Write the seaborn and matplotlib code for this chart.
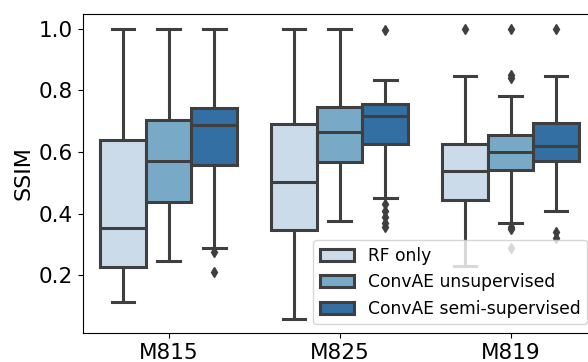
import matplotlib
matplotlib.use("Agg")
import matplotlib.pyplot as plt
import pandas as pd
import seaborn as sns

datasets = ["M815", "M825", "M819"]
methods = ["RF only", "ConvAE unsupervised", "ConvAE semi-supervised"]

# Box summaries per dataset: (lower whisker, Q1, median, Q3, upper whisker)
rf_only = [
    (0.114, 0.228, 0.353, 0.637, 1.000),
    (0.060, 0.347, 0.501, 0.690, 1.000),
    (0.231, 0.444, 0.539, 0.626, 0.847),
]
convae_unsup = [
    (0.247, 0.437, 0.572, 0.702, 1.000),
    (0.376, 0.566, 0.663, 0.746, 1.000),
    (0.371, 0.540, 0.601, 0.656, 0.780),
]
convae_semi = [
    (0.290, 0.558, 0.688, 0.742, 1.000),
    (0.452, 0.627, 0.718, 0.756, 0.834),
    (0.410, 0.569, 0.618, 0.694, 0.847),
]

# Points lying beyond the whiskers
rf_only_fliers = [[], [], [1.000]]
convae_unsup_fliers = [[], [], [0.288, 0.350, 0.357, 0.840, 0.850, 1.000]]
convae_semi_fliers = [
    [0.212, 0.275],
    [0.355, 0.370, 0.390, 0.410, 0.430, 0.995],
    [0.320, 0.340, 1.000],
]


def sample_from_summary(summary, fliers, reps=20):
    """Sample whose quartiles and whisker ends equal the given summary."""
    lo, q1, med, q3, hi = summary
    return [lo] + [q1] * reps + [med] * reps + [q3] * reps + [hi] + list(fliers)


rows = []
for method, summaries, fliers in [
    (methods[0], rf_only, rf_only_fliers),
    (methods[1], convae_unsup, convae_unsup_fliers),
    (methods[2], convae_semi, convae_semi_fliers),
]:
    for ds, summ, fl in zip(datasets, summaries, fliers):
        for v in sample_from_summary(summ, fl):
            rows.append({"dataset": ds, "method": method, "SSIM": v})
df = pd.DataFrame(rows)

fig = plt.figure(figsize=(5.88, 3.62), dpi=100)
ax = fig.add_axes([0.1412, 0.0801, 1.0136 - 0.1412, 0.9613 - 0.0801])

line_color = "#3f3f3f"
sns.boxplot(
    data=df, x="dataset", y="SSIM", hue="method",
    order=datasets, hue_order=methods, palette="Blues",
    linewidth=2.2, linecolor=line_color, ax=ax,
    flierprops=dict(marker="d", markersize=5,
                    markerfacecolor=line_color, markeredgecolor=line_color),
)

ax.set_xlabel("")
ax.set_ylabel("SSIM", fontsize=16)
ax.tick_params(axis="both", labelsize=15.5)
ax.set_yticks([0.2, 0.4, 0.6, 0.8, 1.0])

handles, labels = ax.get_legend_handles_labels()
ax.legend(handles, labels, loc="lower right", fontsize=12.3)

fig.savefig("out.png", dpi=100)
